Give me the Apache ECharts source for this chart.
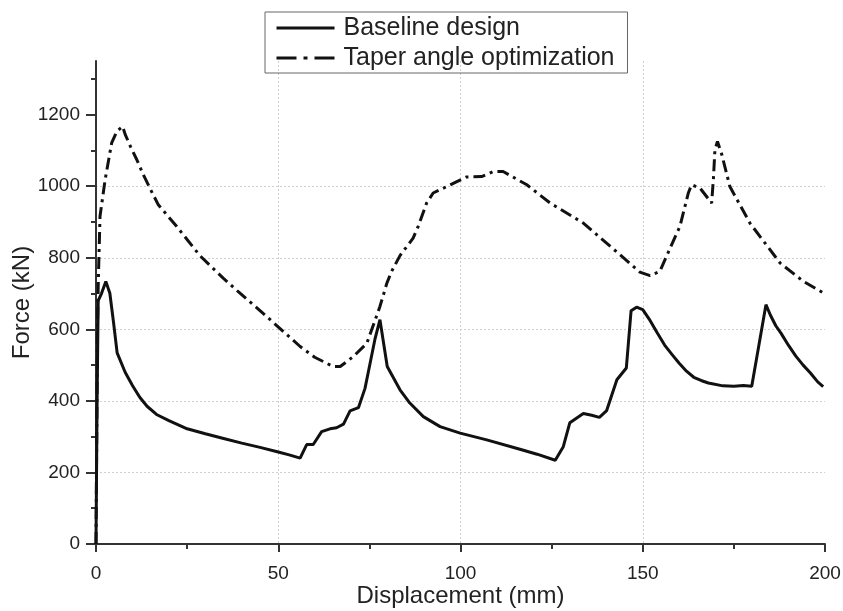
<!DOCTYPE html>
<html lang="en">
<head>
  <meta charset="UTF-8">
  <title>Force vs displacement</title>
  <script src="https://cdn.jsdelivr.net/npm/echarts@6/dist/echarts.min.js"></script>
  <style>
    html, body { margin: 0; padding: 0; background: #fff; }
  </style>
</head>
<body>
  <div id="main" style="width: 843px;height:611px;"></div>
  <script>
    // series names
    var seriesNames = ['Baseline design', 'Taper angle optimization'];

    // [displacement (mm), force (kN)]
    var baselinePoints = [
      [0, 0], [0.3, 400], [0.6, 680], [1.5, 700], [2.7, 734], [3.8, 701], [4.8, 620], [5.8, 534],
      [8, 480], [10, 443], [12, 410], [14, 385], [16.6, 362], [20, 345], [25, 322], [30, 308],
      [35, 295], [40, 282], [45, 270], [50, 257], [53, 249], [56, 240], [57.8, 278], [59.6, 278],
      [61.9, 314], [64.2, 322], [66, 325], [67.9, 335], [69.7, 372], [72, 381], [73.8, 435],
      [75.2, 505], [76.5, 571], [77.9, 627], [79.9, 496], [83.4, 431], [86.1, 394], [89.8, 356],
      [94.4, 328], [99.9, 310], [107.2, 291], [116.3, 265], [121, 251], [126, 234], [128.2, 272],
      [130, 339], [133.7, 365], [136, 360], [138.1, 354], [140.1, 373], [142.9, 459], [145.5, 492],
      [146.8, 652], [148.3, 662], [150, 655], [152, 625], [154, 590], [156, 556], [158, 530],
      [160, 505], [162, 483], [164, 466], [166, 457], [168, 450], [172, 442], [175, 441],
      [177.6, 443], [179.9, 441], [183.8, 669], [185, 640], [186.5, 610], [188, 588], [190, 555],
      [192, 525], [194, 500], [196, 478], [198, 453], [199.5, 440]
    ];

    var taperPoints = [
      [0, 0], [0.4, 600], [0.6, 720], [1.1, 916], [2.5, 1018], [4.3, 1121], [5.7, 1153], [7.3, 1167],
      [8, 1145], [9.5, 1110], [11.2, 1074], [13, 1032], [15, 990], [17.1, 948], [22.1, 888],
      [28.5, 806], [34.9, 743], [39.5, 701], [46.8, 636], [56, 552], [60, 522], [65.1, 496],
      [67, 496], [70.6, 524], [74.3, 561], [77.9, 664], [79.8, 729], [81.1, 762], [83.4, 806],
      [87, 855], [88.4, 888], [90.7, 953], [92.5, 981], [96.2, 999], [99, 1013], [101.7, 1026],
      [105.8, 1027], [109, 1041], [111.7, 1041], [118.2, 1004], [124.6, 953], [133.7, 897],
      [143.8, 808], [149.2, 760], [152, 750], [154.7, 762], [157.5, 827], [160.2, 888],
      [162.5, 981], [163.4, 1004], [165.7, 995], [168.9, 953], [169.4, 1023], [169.8, 1102],
      [170.5, 1125], [171.7, 1088], [173.9, 999], [179.4, 897], [187.7, 785], [194.1, 734],
      [200, 699]
    ];

    // tick values
    var xMajorTicks = [0, 50, 100, 150, 200];
    var xMinorTicks = [25, 75, 125, 175];
    var yMajorTicks = [0, 200, 400, 600, 800, 1000, 1200];
    var yMinorTicks = [100, 300, 500, 700, 900, 1100, 1300];

    var myChart = echarts.init(document.getElementById('main'));

    var fontFamily = '"Liberation Sans", Arial, sans-serif';
    var inkColor = '#222';
    var gridLine = { show: true, lineStyle: { color: '#cfcfcf', width: 1, type: [2, 2] } };

    myChart.setOption({
      animation: false,
      textStyle: { fontFamily: fontFamily },
      grid: { left: 96, right: 18, top: 61, bottom: 67, containLabel: false, outerBoundsMode: 'none' },
      legend: {
        orient: 'vertical',
        left: 265,
        top: 12,
        padding: [3, 13, 2, 10],
        itemGap: 4,
        itemWidth: 58,
        itemHeight: 26,
        borderColor: '#666',
        borderWidth: 1,
        borderRadius: 0,
        // hide the round marker, keep only the line sample
        itemStyle: { color: 'transparent', borderWidth: 0, opacity: 0 },
        textStyle: { fontSize: 25, color: inkColor, lineHeight: 26, fontFamily: fontFamily, padding: [0, 0, 0, 4] },
        data: [
          { name: seriesNames[0], lineStyle: { width: 3, color: '#111' } },
          { name: seriesNames[1], lineStyle: { width: 3, color: '#111', type: [20, 7, 4, 7] } }
        ]
      },
      xAxis: [
        {
          type: 'value',
          position: 'bottom',
          offset: 5,
          min: 0,
          max: 200,
          interval: 25,
          name: 'Displacement (mm)',
          nameLocation: 'middle',
          nameGap: 35,
          nameMoveOverlap: false,
          nameTextStyle: { fontSize: 24, color: inkColor },
          axisLine: { show: true, lineStyle: { color: '#333', width: 2 } },
          axisTick: { show: true, length: 8, customValues: xMajorTicks, lineStyle: { color: '#333', width: 2 } },
          axisLabel: { fontSize: 19, color: inkColor, margin: 15, customValues: xMajorTicks },
          splitLine: Object.assign({ showMinLine: false, showMaxLine: false }, gridLine)
        },
        {
          type: 'value',
          position: 'bottom',
          offset: 5,
          min: 0,
          max: 200,
          interval: 25,
          axisLine: { show: false },
          axisTick: { show: true, length: 5, customValues: xMinorTicks, lineStyle: { color: '#333', width: 2 } },
          axisLabel: { show: false },
          splitLine: { show: false }
        }
      ],
      yAxis: [
        {
          type: 'value',
          position: 'left',
          min: 0,
          max: 1350,
          interval: 100,
          name: 'Force (kN)',
          nameLocation: 'middle',
          nameGap: 62,
          nameMoveOverlap: false,
          nameTextStyle: { fontSize: 24, color: inkColor },
          axisLine: { show: true, lineStyle: { color: '#333', width: 2 } },
          axisTick: { show: true, length: 10, customValues: yMajorTicks, lineStyle: { color: '#333', width: 2 } },
          axisLabel: {
            fontSize: 19, color: inkColor, margin: 16, customValues: yMajorTicks,
            formatter: function (v) { return String(v); }
          },
          splitLine: Object.assign({ showMinLine: false, showMaxLine: false }, gridLine)
        },
        {
          type: 'value',
          position: 'left',
          min: 0,
          max: 1350,
          interval: 100,
          axisLine: { show: false },
          axisTick: { show: true, length: 5, customValues: yMinorTicks, lineStyle: { color: '#333', width: 2 } },
          axisLabel: { show: false },
          splitLine: { show: false }
        }
      ],
      series: [
        {
          name: seriesNames[0],
          type: 'line',
          symbol: 'none',
          data: baselinePoints,
          lineStyle: { color: '#111', width: 3 },
          itemStyle: { color: '#111' },
          z: 3
        },
        {
          name: seriesNames[1],
          type: 'line',
          symbol: 'none',
          data: taperPoints,
          lineStyle: { color: '#111', width: 3, type: [12, 5, 3, 5] },
          itemStyle: { color: '#111' },
          z: 2
        }
      ]
    });
  </script>
</body>
</html>
